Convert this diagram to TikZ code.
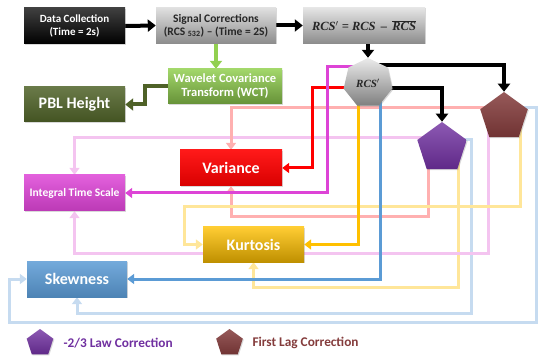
\documentclass[tikz,border=0pt]{standalone}
\usepackage{fontspec}
\setmainfont{Carlito}
\newfontfamily\serifbi{Liberation Serif}[UprightFont={* Bold Italic}]
\usetikzlibrary{arrows.meta,shapes.geometric,shadows,backgrounds,calc}
\definecolor{cRed}{HTML}{FF0000}
\definecolor{cMag}{HTML}{DD44D6}
\definecolor{cOrg}{HTML}{FFC000}
\definecolor{cBlu}{HTML}{5B9BD5}
\definecolor{lRed}{HTML}{FFB0B0}
\definecolor{lYel}{HTML}{FFE699}
\definecolor{lBlu}{HTML}{C6DBF0}
\definecolor{lPnk}{HTML}{F4C4F0}
\definecolor{gLight}{HTML}{92D050}
\definecolor{gDark}{HTML}{4F6228}
\definecolor{cPur}{HTML}{7030A0}
\definecolor{cBrn}{HTML}{843C3C}
\newcommand{\rcsbar}{$\overline{\mbox{\serifbi RCS}}$}
\tikzset{
  box/.style={rectangle, inner sep=1pt, align=center, text=white,
    drop shadow={shadow xshift=1pt, shadow yshift=-1pt, opacity=0.3}},
  shd/.style 2 args={top color=#1, bottom color=#2},
  poly/.style={regular polygon, inner sep=0pt,
    drop shadow={shadow xshift=1pt, shadow yshift=-1pt, opacity=0.3}},
  blk/.style={line width=4pt, black, -{Triangle[length=8pt,width=12pt]}},
  cl/.style={line width=3pt, -{Triangle[length=7pt,width=10pt]}},
  lt/.style={line width=3pt, -{Triangle[length=7pt,width=10pt]}},
}
\begin{document}
\begin{tikzpicture}[x=1pt,y=-1pt]
\useasboundingbox (0,0) rectangle (538,358);

\node[box, shd={black!75}{black}, minimum width=101, minimum height=36,
  font=\bfseries\fontsize{11}{12.5}\selectfont] (dc) at (74.5,26) {Data Collection\\(Time = 2s)};
\node[box, shd={black!12}{black!45}, text=black!85, minimum width=120, minimum height=36,
  font=\bfseries\fontsize{11.5}{13}\selectfont] (sc) at (216,25.5) {Signal Corrections\\(RCS \textsubscript{532}) – (Time = 2S)};
\node[box, shd={black!10}{black!45}, text=black!85, minimum width=122, minimum height=36,
  font=\serifbi\fontsize{12.5}{14}\selectfont] (rcs) at (364,25.5) {RCS$'$ = RCS \,–\, \rcsbar};
\node[box, shd={gLight!85!white}{gLight!70!black}, minimum width=114, minimum height=35,
  font=\bfseries\fontsize{12.5}{14}\selectfont] (wct) at (225,86.5) {Wavelet Covariance\\Transform (WCT)};
\node[box, shd={gDark!85!white}{gDark!85!black}, minimum width=101, minimum height=35,
  font=\bfseries\fontsize{16}{18}\selectfont] (pbl) at (74.5,104.5) {PBL Height};
\node[poly, regular polygon sides=7, minimum size=50, shd={black!8}{black!50}, text=black!85,
  font=\serifbi\fontsize{11}{12}\selectfont] (hep) at (368,83) {RCS$'$};
\node[poly, regular polygon sides=5, minimum size=52, shd={cPur!80!white}{cPur!85!black}] (purp) at (442,148) {};
\node[poly, regular polygon sides=5, minimum size=50, shd={cBrn!85!white}{cBrn!85!black}] (brown) at (504,117) {};
\node[box, shd={cRed!90!white}{cRed!85!black}, minimum width=102, minimum height=36,
  font=\bfseries\fontsize{16}{18}\selectfont] (var) at (231,168) {Variance};
\node[box, shd={cMag!85!white}{cMag!85!black}, minimum width=101, minimum height=36,
  font=\bfseries\fontsize{11.5}{13}\selectfont] (its) at (74.5,193) {Integral Time Scale};
\node[box, shd={cOrg!80!white}{cOrg!75!black}, minimum width=101, minimum height=35,
  font=\bfseries\fontsize{16}{18}\selectfont] (kurt) at (253.5,244.5) {Kurtosis};
\node[box, shd={cBlu!85!white}{cBlu!85!black}, minimum width=100, minimum height=36,
  font=\bfseries\fontsize{16}{18}\selectfont] (skew) at (77,279) {Skewness};

% legend
\node[poly, regular polygon sides=5, minimum size=28, shd={cPur!80!white}{cPur!85!black}] (lp) at (40,343) {};
\node[anchor=west, text=cPur, font=\bfseries\fontsize{13.3}{15}\selectfont] (lpt) at (60,343) {-2/3 Law Correction};
\node[poly, regular polygon sides=5, minimum size=28, shd={cBrn!85!white}{cBrn!85!black}] (lb) at (229.5,343) {};
\node[anchor=west, text=cBrn, font=\bfseries\fontsize{13.3}{15}\selectfont] (lbt) at (249,343) {First Lag Correction};

\begin{pgfonlayer}{background}
% light connectors from -2/3 law correction
\draw[lt, lRed] ($(purp.center)+(-14,0)$) -- ++(0,69) -| (var.south);
\draw[lt, lYel] ($(purp.center)+(16,0)$) -- ++(0,139) -| (kurt.south);
\draw[lt, lBlu] ($(purp.center)+(0,-8)$) -- ++(29,0) -- ++(0,173) -| (skew.south);
\draw[lt, lPnk] ($(purp.center)+(0,-10)$) -| (its.north);
% light connectors from first lag correction
\draw[lt, lRed] ($(brown.center)+(0,-9)$) -| (var.north);
\draw[lt, lBlu] ($(brown.center)+(0,-9)$) -- ++(32,0) -- ++(0,214) -| ($(skew.west)+(-17,0)$) -- (skew.west);
\draw[lt, lPnk] ($(brown.center)+(-16,0)$) -- ++(0,136) -| (its.south);
\draw[lt, lYel] ($(brown.center)+(16,0)$) -- ++(0,90) -| ($(kurt.west)+(-18,0)$) -- (kurt.west);
% coloured connectors
\draw[cl, cRed] ($(hep.center)+(0,5)$) -- ++(-56,0) |- (var.east);
\draw[cl, cMag] ($(hep.center)+(0,-16)$) -- ++(-41,0) |- (its.east);
\draw[cl, cOrg] ($(hep.center)+(-10,0)$) |- (kurt.east);
\draw[cl, cBlu] ($(hep.center)+(12,0)$) |- (skew.east);
% black
\draw[blk] (dc.east) -- (sc.west);
\draw[blk] (sc.east) -- (rcs.west);
\draw[blk] (rcs.south -| hep.north) -- (hep.north);
\draw[blk] ($(hep.center)+(0,-18)$) -| (brown.north);
\draw[blk] ($(hep.center)+(0,5)$) -| (purp.north);
% green
\draw[line width=4pt, gLight, -{Triangle[length=8pt,width=12pt]}] (sc.south) -- (sc.south |- wct.north);
\draw[line width=4pt, gDark, -{Triangle[length=8pt,width=12pt]}] (wct.west) -- ++(-23,0) |- (pbl.east);
\end{pgfonlayer}
\end{tikzpicture}
\end{document}
